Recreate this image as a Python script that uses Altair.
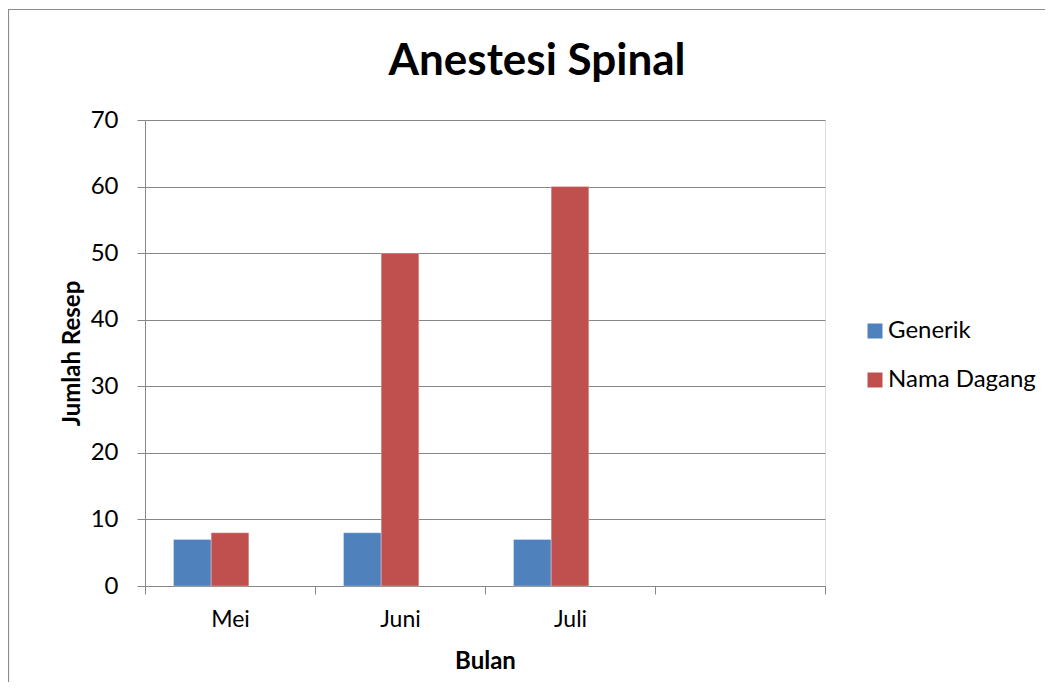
import altair as alt
import pandas as pd

months = ["Mei", "Juni", "Juli"]
generik = [7, 8, 7]
nama_dagang = [8, 50, 60]
series_names = ["Generik", "Nama Dagang"]
x_domain = ["Mei", "Juni", "Juli", " "]
offset_domain = ["Generik", "Nama Dagang", "_"]
colors = ["#4F81BD", "#C0504D"]
chart_title = ["Anestesi Spinal"]

rows = []
for i, m in enumerate(months):
    rows.append({"Bulan": m, "Seri": "Generik", "Jumlah": generik[i]})
    rows.append({"Bulan": m, "Seri": "Nama Dagang", "Jumlah": nama_dagang[i]})
df = pd.DataFrame(rows)

FONT = "Lato"
GRAY = "#868686"

bars = alt.Chart(df).mark_bar(stroke="#ffffff", strokeWidth=0.6, strokeOpacity=0.5).encode(
    x=alt.X(
        "Bulan:N",
        scale=alt.Scale(domain=x_domain, paddingInner=0, paddingOuter=0),
        sort=x_domain,
        axis=alt.Axis(
            title="Bulan",
            labelAngle=0,
            tickBand="extent",
            tickSize=8,
            tickColor=GRAY,
            domainColor=GRAY,
            labelFont=FONT,
            labelFontSize=23,
            labelColor="#000000",
            labelPadding=14,
            titleFont=FONT,
            titleFontSize=24,
            titleFontWeight="bold",
            titleColor="#000000",
            titleY=75,
            titleBaseline="middle",
            grid=False,
        ),
    ),
    xOffset=alt.XOffset(
        "Seri:N",
        scale=alt.Scale(domain=offset_domain, paddingInner=0, paddingOuter=0.757),
    ),
    y=alt.Y(
        "Jumlah:Q",
        scale=alt.Scale(domain=[0, 70], nice=False),
        axis=alt.Axis(
            title="Jumlah Resep",
            values=[0, 10, 20, 30, 40, 50, 60, 70],
            tickSize=8,
            tickColor=GRAY,
            domainColor=GRAY,
            gridColor=GRAY,
            grid=True,
            labelFont=FONT,
            labelFontSize=24,
            labelColor="#000000",
            labelPadding=19,
            titleFont=FONT,
            titleFontSize=24,
            titleFontWeight="bold",
            titleColor="#000000",
            titleX=-73,
            titleY=233,
            titleAngle=-90,
            titleBaseline="middle",
            titleAlign="center",
        ),
    ),
    color=alt.Color(
        "Seri:N",
        scale=alt.Scale(domain=series_names, range=colors),
        legend=alt.Legend(
            title=None,
            orient="none",
            legendX=718,
            legendY=199,
            symbolType="square",
            symbolSize=225,
            symbolStrokeWidth=0,
            symbolOpacity=1,
            labelFont=FONT,
            labelFontSize=24,
            labelColor="#000000",
            labelOffset=1,
            rowPadding=25,
        ),
    ),
)

title_df = pd.DataFrame({"t": chart_title})
title_mark = alt.Chart(title_df).mark_text(
    font=FONT, fontSize=44, fontWeight="bold", color="#000000",
    align="center", baseline="alphabetic",
).encode(text="t:N", x=alt.value(392), y=alt.value(-45))

frame_left = alt.Chart(title_df).mark_rule(color="#8c8c8c", strokeWidth=1.2).encode(
    x=alt.value(-136.5), y=alt.value(-111), y2=alt.value(600)
)
frame_top = alt.Chart(title_df).mark_rule(color="#8c8c8c", strokeWidth=1.2).encode(
    x=alt.value(-137), x2=alt.value(900), y=alt.value(-110.5)
)

chart = (
    alt.layer(bars, title_mark, frame_left, frame_top)
    .properties(
        width=680,
        height=466,
        autosize=alt.AutoSizeParams(type="none"),
        padding={"left": 137, "top": 112, "right": 220, "bottom": 96},
    )
    .configure_view(stroke=None)
    .configure(background="#ffffff")
)

chart.save("out.html", embed_options={"renderer": "svg", "actions": False})
